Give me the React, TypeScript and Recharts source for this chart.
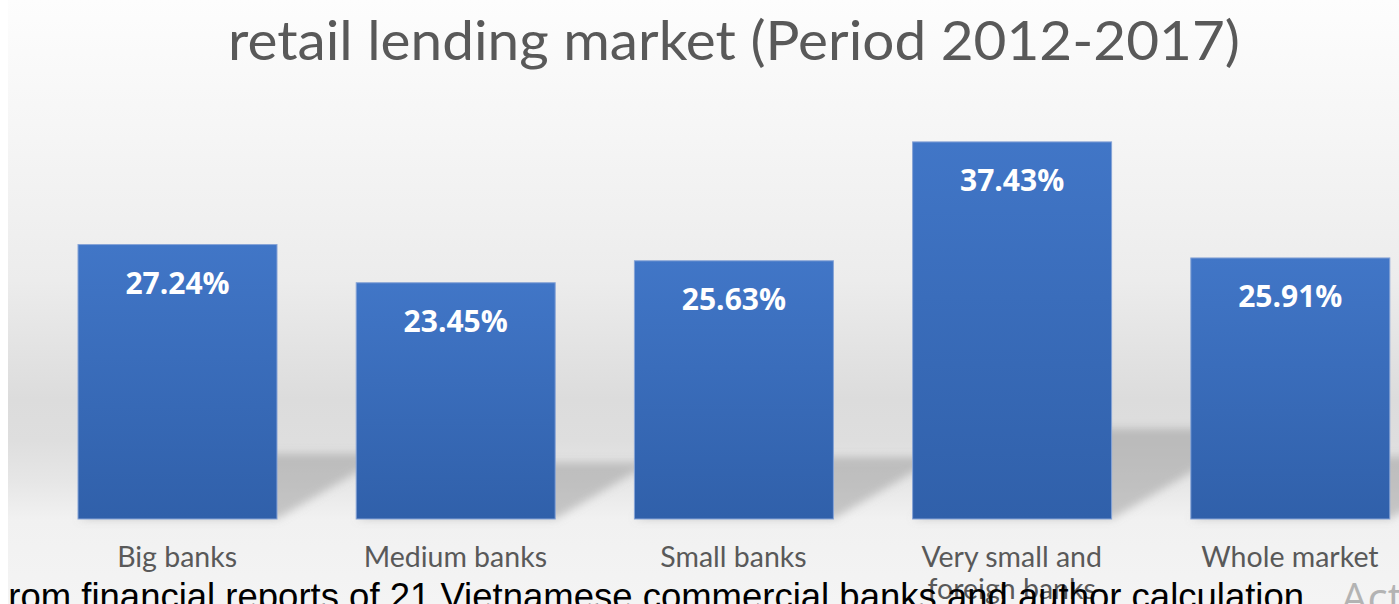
import React from "react";
import { BarChart, Bar, XAxis, YAxis, LabelList } from "recharts";

const categories = ["Big banks", "Medium banks", "Small banks", "Very small and foreign banks", "Whole market"];
const growth = [27.24, 23.45, 25.63, 37.43, 25.91];
const tickLines: Record<string, string[]> = {
  "Very small and foreign banks": ["Very small and", "foreign banks"],
};

const data = categories.map((name, i) => ({ name, growth: growth[i] }));

const TITLE = "retail lending market (Period 2012-2017)";
const SOURCE = "From financial reports of 21 Vietnamese commercial banks and author calculation";

const ShadowBar = (props: any) => {
  const { x, y, width, height } = props;
  const bottom = y + height;
  const sh = height * 0.24; // shadow height
  const shift = sh * 1.7;
  const pts = `${x},${bottom} ${x + width},${bottom} ${x + width + shift},${bottom - sh} ${x + shift},${bottom - sh}`;
  return (
    <g>
      <polygon points={pts} fill="#8a8a8a" fillOpacity={0.42} filter="url(#shadowBlur)" />
      <rect x={x} y={y} width={width} height={height} fill="url(#barGrad)" stroke="#86a3d6" strokeWidth={1} />
    </g>
  );
};

const CategoryTick = (props: any) => {
  const { x, y, payload } = props;
  const lines = tickLines[payload.value] ?? [payload.value];
  return (
    <g>
      {lines.map((l, i) => (
        <text
          key={l}
          x={x}
          y={y + 40 + i * 32}
          textAnchor="middle"
          fontFamily="Lato, sans-serif"
          fontSize={28.5}
          fill="#595959"
        >
          {l}
        </text>
      ))}
    </g>
  );
};

const ValueLabel = (props: any) => {
  const { x, y, width, value } = props;
  return (
    <text
      x={x + width / 2}
      y={y + 49}
      textAnchor="middle"
      fontFamily="'Open Sans', sans-serif"
      fontWeight={700}
      fontSize={30}
      fill="#ffffff"
    >
      {Number(value).toFixed(2)}%
    </text>
  );
};

export default function App() {
  return (
    <div
      style={{
        position: "absolute",
        top: 0,
        left: 8,
        width: 1391,
        height: 604,
        overflow: "hidden",
        background:
          "linear-gradient(to bottom, #fdfdfd 0px, #f5f5f5 140px, #ececec 280px, #dcdcdc 400px, #dedede 440px, #e6e6e6 480px, #f1f1f1 519px, #f4f4f4 604px)",
      }}
    >
      <div style={{ position: "absolute", left: 0, top: 0 }}>
        <BarChart width={1421} height={604} data={data} margin={{ top: 116, right: 0, left: 30, bottom: 0 }}>
          <defs>
            <linearGradient id="barGrad" x1="0" y1="0" x2="0" y2="1">
              <stop offset="0%" stopColor="#4176c7" />
              <stop offset="100%" stopColor="#3060aa" />
            </linearGradient>
            <filter id="shadowBlur" x="-20%" y="-50%" width="140%" height="200%">
              <feGaussianBlur stdDeviation="4" />
            </filter>
          </defs>
          <XAxis
            dataKey="name"
            height={85}
            axisLine={false}
            tickLine={false}
            interval={0}
            tick={<CategoryTick />}
          />
          <YAxis hide domain={[0, 40]} />
          <Bar dataKey="growth" barSize={199} shape={<ShadowBar />} isAnimationActive={false}>
            <LabelList dataKey="growth" content={<ValueLabel />} />
          </Bar>
        </BarChart>
      </div>
      <svg width={1391} height={604} style={{ position: "absolute", left: 0, top: 0, pointerEvents: "none" }}>
        <text
          x={726}
          y={60}
          textAnchor="middle"
          fontFamily="Lato, sans-serif"
          fontSize={54}
          fill="#595959"
          textLength={1012}
          lengthAdjust="spacingAndGlyphs"
        >
          {TITLE}
        </text>
        <text x={-22} y={609} fontFamily="'Liberation Sans', Arial, sans-serif" fontSize={36.5} fill="#000000">
          {SOURCE}
        </text>
        <text x={1333} y={613} fontFamily="'Open Sans', sans-serif" fontSize={42} fill="#b3b3b3">
          Activate Windows
        </text>
      </svg>
    </div>
  );
}
